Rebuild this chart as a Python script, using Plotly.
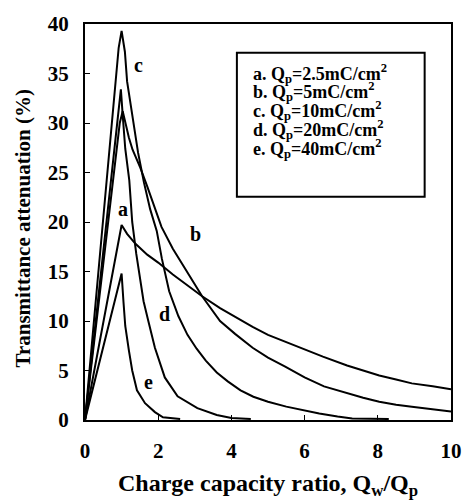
import plotly.graph_objects as go

# ---- data ----
a_x = [0, 1.0, 1.15, 1.38, 1.7, 2.0, 2.4, 2.8, 3.2, 3.69, 4.1, 4.58, 5.0, 5.47, 6.0, 6.5, 7.16, 7.6, 8.04, 8.5, 8.93, 9.5, 10.0]
a_y = [0, 19.7, 18.8, 17.8, 16.7, 15.9, 14.7, 13.6, 12.5, 11.3, 10.4, 9.4, 8.6, 7.9, 7.1, 6.4, 5.5, 5.0, 4.5, 4.1, 3.7, 3.4, 3.1]

b_x = [0, 0.95, 1.03, 1.1, 1.2, 1.3, 1.51, 1.7, 1.87, 2.09, 2.4, 2.8, 3.2, 3.69, 4.1, 4.58, 5.0, 5.47, 6.0, 6.53, 7.15, 7.6, 8.04, 8.5, 8.93, 9.5, 10.0]
b_y = [0, 30.0, 31.2, 30.0, 28.5, 27.3, 25.5, 23.6, 21.8, 19.5, 17.3, 14.9, 12.5, 10.0, 8.7, 7.3, 6.3, 5.4, 4.3, 3.4, 2.7, 2.25, 1.85, 1.55, 1.35, 1.05, 0.85]

c_x = [0, 0.92, 1.0, 1.09, 1.15, 1.3, 1.45, 1.61, 1.78, 1.96, 2.1, 2.3, 2.55, 2.8, 3.05, 3.3, 3.6, 3.9, 4.25, 4.6, 5.0, 5.5, 6.0, 6.4, 6.9, 7.3, 8.3]
c_y = [0, 37.6, 39.3, 37.2, 34.2, 30.5, 27.0, 24.0, 21.3, 19.1, 16.3, 13.0, 10.5, 8.6, 7.2, 6.0, 4.8, 3.9, 3.0, 2.35, 1.85, 1.35, 0.95, 0.65, 0.35, 0.15, 0.1]

d_x = [0, 0.92, 0.98, 1.03, 1.1, 1.21, 1.29, 1.4, 1.5, 1.6, 1.73, 1.91, 2.18, 2.53, 3.07, 3.6, 4.0, 4.53]
d_y = [0, 32.0, 33.4, 30.8, 27.4, 24.2, 20.0, 16.8, 14.2, 12.0, 10.0, 7.3, 4.3, 2.4, 1.2, 0.5, 0.2, 0.1]

e_x = [0, 0.93, 1.0, 1.05, 1.1, 1.2, 1.29, 1.42, 1.64, 1.91, 2.13, 2.6]
e_y = [0, 13.7, 14.8, 12.0, 9.5, 7.0, 5.0, 3.0, 1.7, 0.8, 0.27, 0.1]

curve_letters = ["a", "b", "c", "d", "e"]
label_x = [1.04, 3.02, 1.47, 2.18, 1.73]
label_y = [21.3, 18.8, 35.9, 10.7, 3.86]

legend_texts = [
    "a. Q<sub>p</sub>=2.5mC/cm<sup>2</sup>",
    "b. Q<sub>p</sub>=5mC/cm<sup>2</sup>",
    "c. Q<sub>p</sub>=10mC/cm<sup>2</sup>",
    "d. Q<sub>p</sub>=20mC/cm<sup>2</sup>",
    "e. Q<sub>p</sub>=40mC/cm<sup>2</sup>",
]

x_ticks = [0, 2, 4, 6, 8, 10]
y_ticks = [0, 5, 10, 15, 20, 25, 30, 35, 40]

FONT = "Liberation Serif, Times New Roman, serif"

fig = go.Figure()
for xs, ys in [(a_x, a_y), (b_x, b_y), (c_x, c_y), (d_x, d_y), (e_x, e_y)]:
    fig.add_trace(go.Scatter(x=xs, y=ys, mode="lines",
                             line=dict(color="black", width=2),
                             showlegend=False, hoverinfo="skip"))

anns = []
for t, lx, ly in zip(curve_letters, label_x, label_y):
    anns.append(dict(x=lx, y=ly, xref="x", yref="y", text="<b>%s</b>" % t, showarrow=False,
                     font=dict(family=FONT, size=20, color="black")))

leg_x0, leg_x1, leg_y0, leg_y1 = 4.15, 9.28, 22.56, 37.1
for i, t in enumerate(legend_texts):
    py = 72 + 19 * i
    anns.append(dict(x=4.53, y=(420 - py) / 9.93, xref="x", yref="y", text="<b>%s</b>" % t,
                     showarrow=False, xanchor="left", yanchor="middle",
                     font=dict(family=FONT, size=18, color="black")))

anns.append(dict(x=0.5, y=-0.163, xref="paper", yref="paper",
                 text="<b>Charge capacity ratio, Q<sub>w</sub>/Q<sub>p</sub></b>",
                 showarrow=False, xanchor="center", yanchor="middle",
                 font=dict(family=FONT, size=24, color="black")))
anns.append(dict(x=-0.17, y=0.483, xref="paper", yref="paper",
                 text="<b>Transmittance attenuation (%)</b>", textangle=-90,
                 showarrow=False, xanchor="center", yanchor="middle",
                 font=dict(family=FONT, size=21, color="black")))

fig.add_shape(type="rect", xref="x", yref="y", x0=leg_x0, x1=leg_x1, y0=leg_y0, y1=leg_y1,
              line=dict(color="black", width=2), fillcolor="white", layer="below")

axis_common = dict(showgrid=False, zeroline=False, showline=True, mirror=True,
                   linecolor="black", linewidth=2, ticks="inside", ticklen=5,
                   tickwidth=1, tickcolor="black",
                   tickfont=dict(family=FONT, size=21, color="black"))

fig.update_layout(
    width=474, height=500,
    margin=dict(l=85, r=14, t=23, b=80),
    paper_bgcolor="white", plot_bgcolor="white",
    xaxis=dict(range=[0, 10], tickvals=x_ticks, ticktext=["<b>%d</b>" % v for v in x_ticks],
               ticklabelstandoff=11, **axis_common),
    yaxis=dict(range=[0, 40], tickvals=y_ticks, ticktext=["<b>%d</b>" % v for v in y_ticks],
               ticklabelstandoff=10, **axis_common),
    annotations=anns,
    showlegend=False,
)

fig.write_html("out.html")
